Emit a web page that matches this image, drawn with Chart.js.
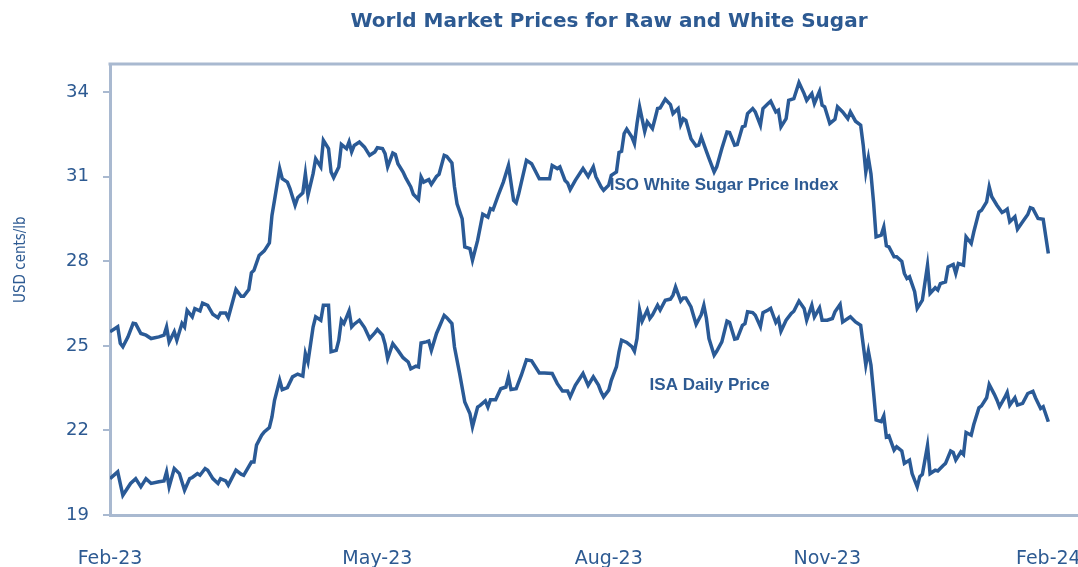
<!DOCTYPE html>
<html>
<head>
<meta charset="utf-8">
<title>World Market Prices for Raw and White Sugar</title>
<script src="https://cdn.jsdelivr.net/npm/chart.js@4/dist/chart.umd.min.js"></script>
<style>
  html, body { margin: 0; padding: 0; background: #fff; overflow: hidden; width: 1078px; height: 567px; }
  canvas { display: block; }
</style>
</head>
<body>
<canvas id="sugarChart" width="1218" height="567"></canvas>
<script>
// Days counted from the start of the period (Feb-23 = day 0, Feb-24 = day 365)
const isoDays = [0,3,4,5,7,9,10,12,14,16,19,21,22,23,25,26,28,29,30,32,33,35,36,38,40,42,43,45,46,49,
  51,52,54,55,56,58,60,62,63,64,66,67,69,70,72,73,75,76,77,79,80,82,83,85,86,87,89,90,92,93,
  94,95,97,99,101,103,104,106,107,108,110,111,112,114,115,117,118,120,121,122,124,125,127,128,130,131,133,134,135,137,
  138,140,141,143,145,147,148,149,151,153,155,157,158,159,162,164,167,171,172,174,175,177,178,179,181,184,186,188,189,191,
  192,194,195,197,198,199,200,201,203,204,205,206,208,209,211,212,213,214,216,218,219,221,222,223,224,226,228,229,230,232,
  233,235,236,238,240,241,243,244,246,247,248,250,251,253,254,256,257,259,260,261,263,264,266,268,270,271,273,274,276,277,
  278,280,282,283,285,287,288,290,292,293,294,295,296,297,298,300,301,302,303,305,306,308,309,310,311,313,314,315,316,318,
  319,321,322,323,325,326,328,329,330,332,333,335,336,338,339,341,342,343,345,347,348,349,350,352,353,355,357,358,359,361,
  363,365]
const isoValues = [25.50,25.68,25.09,24.97,25.32,25.80,25.78,25.44,25.38,25.26,25.32,25.38,25.67,25.14,25.50,25.20,25.80,25.67,26.26,26.03,26.32,26.24,26.52,26.44,26.12,26.00,26.17,26.17,26.00,27.00,
  26.76,26.76,27.00,27.59,27.68,28.21,28.37,28.65,29.63,30.17,31.29,30.93,30.81,30.58,29.99,30.26,30.43,31.11,30.34,31.11,31.64,31.35,32.29,32.00,31.17,30.97,31.35,32.15,32.00,32.24,
  31.88,32.11,32.23,32.05,31.76,31.88,32.03,32.00,31.82,31.35,31.84,31.79,31.46,31.17,30.97,30.64,30.38,30.19,30.99,30.81,30.90,30.73,31.01,31.09,31.76,31.72,31.49,30.64,30.04,29.51,
  28.51,28.45,28.04,28.74,29.67,29.57,29.87,29.83,30.34,30.81,31.40,30.16,30.07,30.40,31.58,31.46,30.93,30.93,31.40,31.29,31.35,30.87,30.78,30.54,30.87,31.29,31.01,31.35,31.00,30.64,
  30.52,30.70,31.05,31.17,31.86,31.90,32.53,32.69,32.41,32.18,32.89,33.48,32.61,32.95,32.71,33.06,33.42,33.44,33.75,33.56,33.24,33.42,32.85,33.06,33.00,32.35,32.09,32.12,32.41,31.90,
  31.65,31.17,31.35,32.00,32.59,32.57,32.12,32.14,32.77,32.80,33.24,33.42,33.30,32.83,33.42,33.60,33.68,33.30,33.36,32.77,33.06,33.71,33.77,34.34,33.95,33.71,33.95,33.60,34.03,33.54,
  33.48,32.89,33.04,33.48,33.30,33.06,33.30,32.97,32.83,32.12,31.17,31.67,31.11,30.11,28.87,28.93,29.22,28.55,28.51,28.16,28.16,28.00,27.57,27.39,27.45,26.92,26.33,26.47,26.62,27.86,
  26.86,27.06,26.98,27.21,27.27,27.80,27.89,27.57,27.92,27.86,28.87,28.63,29.04,29.75,29.81,30.11,30.64,30.29,29.99,29.73,29.78,29.85,29.40,29.58,29.14,29.40,29.66,29.90,29.87,29.52,
  29.49,28.28]

const isaDays = [0,3,5,8,10,12,14,16,19,21,22,23,25,27,29,31,32,34,35,37,38,40,42,43,45,46,49,51,52,55,
  56,57,59,60,62,63,64,66,67,69,71,73,75,76,77,79,80,82,83,85,86,88,89,90,91,93,94,95,97,99,
  101,103,104,106,107,108,110,112,114,116,117,119,120,121,123,124,125,127,128,130,131,133,134,136,138,140,141,143,144,146,
  147,148,150,152,154,155,156,158,160,162,164,167,169,172,174,176,178,179,181,184,186,188,190,191,192,194,195,197,198,199,
  201,203,204,205,206,207,209,210,211,213,214,216,218,219,220,222,223,224,226,227,228,230,231,232,233,235,236,238,240,241,
  243,244,246,247,248,250,251,253,254,256,257,259,260,261,263,265,266,268,270,271,273,274,276,277,279,281,282,284,285,287,
  288,290,292,293,294,295,296,297,298,300,301,302,303,305,306,308,309,311,312,314,315,316,318,319,321,322,324,325,327,328,
  329,331,332,333,335,336,338,339,341,342,344,345,346,348,349,350,352,353,355,357,359,360,362,363,365]
const isaValues = [20.29,20.53,19.70,20.12,20.29,20.00,20.29,20.12,20.18,20.21,20.53,20.00,20.65,20.47,19.88,20.29,20.33,20.47,20.41,20.65,20.59,20.29,20.12,20.29,20.21,20.06,20.59,20.45,20.41,20.88,
  20.88,21.48,21.83,21.95,22.10,22.48,23.07,23.78,23.45,23.52,23.90,24.00,23.93,24.73,24.43,25.67,26.03,25.91,26.44,26.44,24.79,24.84,25.20,25.91,25.79,26.24,25.67,25.77,25.91,25.65,
  25.26,25.46,25.58,25.38,25.06,24.55,25.08,24.84,24.58,24.43,24.19,24.28,24.25,25.10,25.14,25.17,24.84,25.44,25.65,26.08,26.00,25.79,24.96,24.02,23.01,22.60,22.13,22.83,22.89,23.05,
  22.83,23.09,23.09,23.48,23.54,23.90,23.45,23.48,23.96,24.51,24.47,24.04,24.04,24.02,23.66,23.40,23.40,23.19,23.60,24.02,23.60,23.90,23.61,23.37,23.19,23.43,23.78,24.26,24.79,25.20,
  25.12,24.97,24.81,25.26,26.27,25.88,26.27,25.97,26.09,26.44,26.27,26.62,26.66,26.80,27.09,26.59,26.70,26.70,26.38,26.07,25.76,26.11,26.44,25.97,25.26,24.67,24.81,25.14,25.88,25.83,
  25.24,25.26,25.73,25.79,26.21,26.18,26.09,25.68,26.18,26.27,26.33,25.83,25.97,25.52,25.91,26.15,26.23,26.59,26.33,25.91,26.44,26.03,26.35,25.91,25.91,25.97,26.21,26.47,25.85,25.97,
  26.03,25.85,25.73,25.03,24.32,24.81,24.32,23.37,22.37,22.31,22.52,21.77,21.81,21.30,21.42,21.27,20.83,20.95,20.47,20.00,20.36,20.44,21.46,20.47,20.59,20.56,20.75,20.83,21.27,21.22,
  20.95,21.24,21.15,21.93,21.83,22.21,22.80,22.87,23.16,23.63,23.28,23.08,22.84,23.16,23.35,22.90,23.16,22.90,22.96,23.31,23.39,23.16,22.78,22.84,22.31]

const xTickDays = [0, 104, 194, 279, 365]
const xTickLabels = ["Feb-23", "May-23", "Aug-23", "Nov-23", "Feb-24"]
const yTickValues = [19, 22, 25, 28, 31, 34]
const yAxisLabel = "USD cents/lb"

// in-plot series names, anchored in data units
const seriesNotes = [
  { text: "ISO White Sugar Price Index", day: 194.4, value: 30.7 },
  { text: "ISA Daily Price", day: 209.9, value: 23.61 },
]

const lineColor = "#2a5a96"
const textColor = "#2d5a92"
const frameColor = "#a9b9d0"

function toPoints(days, values) {
  return days.map((d, i) => ({ x: d, y: values[i] }))
}

// top edge of the plot frame
const frameTop = {
  id: "frameTop",
  beforeDatasetsDraw(chart) {
    const { ctx, chartArea } = chart
    ctx.save()
    ctx.strokeStyle = frameColor
    ctx.lineWidth = 3
    ctx.beginPath()
    ctx.moveTo(chartArea.left - 1.5, chartArea.top)
    ctx.lineTo(chartArea.right, chartArea.top)
    ctx.stroke()
    ctx.restore()
  },
}

// series names inside the plot, plus the vertical axis caption
const notesPlugin = {
  id: "seriesNotes",
  beforeDatasetsDraw(chart) {
    const { ctx, scales } = chart
    ctx.save()
    ctx.fillStyle = textColor
    ctx.font = "bold 17px 'Liberation Sans', Arial, sans-serif"
    ctx.textAlign = "left"
    ctx.textBaseline = "middle"
    seriesNotes.forEach((note) => {
      ctx.fillText(note.text, scales.x.getPixelForValue(note.day), scales.y.getPixelForValue(note.value))
    })

    // caption sits a little above the middle of the axis, as in the source
    ctx.translate(21, scales.y.getPixelForValue(28.06))
    ctx.rotate(-Math.PI / 2)
    ctx.textAlign = "center"
    ctx.font = "15px 'DejaVu Sans Condensed', 'DejaVu Sans', sans-serif"
    ctx.fillText(yAxisLabel, 0, 0)
    ctx.restore()
  },
}

const ctx = document.getElementById("sugarChart").getContext("2d")
new Chart(ctx, {
  type: "line",
  data: {
    datasets: [
      {
        label: "ISO White Sugar Price Index",
        data: toPoints(isoDays, isoValues),
        borderColor: lineColor,
        borderWidth: 3.5,
        pointRadius: 0,
        tension: 0,
        fill: false,
      },
      {
        label: "ISA Daily Price",
        data: toPoints(isaDays, isaValues),
        borderColor: lineColor,
        borderWidth: 3.5,
        pointRadius: 0,
        tension: 0,
        fill: false,
      },
    ],
  },
  options: {
    responsive: false,
    animation: false,
    devicePixelRatio: 1,
    layout: { padding: 0 },
    plugins: {
      legend: { display: false },
      tooltip: { enabled: false },
      title: {
        display: true,
        text: "World Market Prices for Raw and White Sugar",
        color: textColor,
        font: { family: "'DejaVu Sans', Verdana, sans-serif", weight: "bold", size: 20 },
        padding: { top: 10, bottom: 30 },
      },
    },
    scales: {
      x: {
        type: "linear",
        min: 0,
        max: 431,
        afterBuildTicks: (scale) => {
          scale.ticks = xTickDays.map((v) => ({ value: v }))
        },
        afterFit: (scale) => {
          scale.height = 52
        },
        ticks: {
          autoSkip: false,
          maxRotation: 0,
          padding: 33,
          color: textColor,
          font: { family: "'DejaVu Sans', Verdana, sans-serif", size: 19 },
          callback: (value) => xTickLabels[xTickDays.indexOf(value)],
        },
        grid: { display: false, drawTicks: false },
        border: { display: true, color: frameColor, width: 3 },
      },
      y: {
        min: 19,
        max: 35,
        afterBuildTicks: (scale) => {
          scale.ticks = yTickValues.map((v) => ({ value: v }))
        },
        afterFit: (scale) => {
          scale.width = 110
        },
        ticks: {
          padding: 14,
          color: textColor,
          font: { family: "'DejaVu Sans', Verdana, sans-serif", size: 18 },
        },
        grid: { drawOnChartArea: false, tickLength: 7, color: frameColor, lineWidth: 2 },
        border: { display: true, color: frameColor, width: 3 },
      },
    },
  },
  plugins: [frameTop, notesPlugin],
})
</script>
</body>
</html>
